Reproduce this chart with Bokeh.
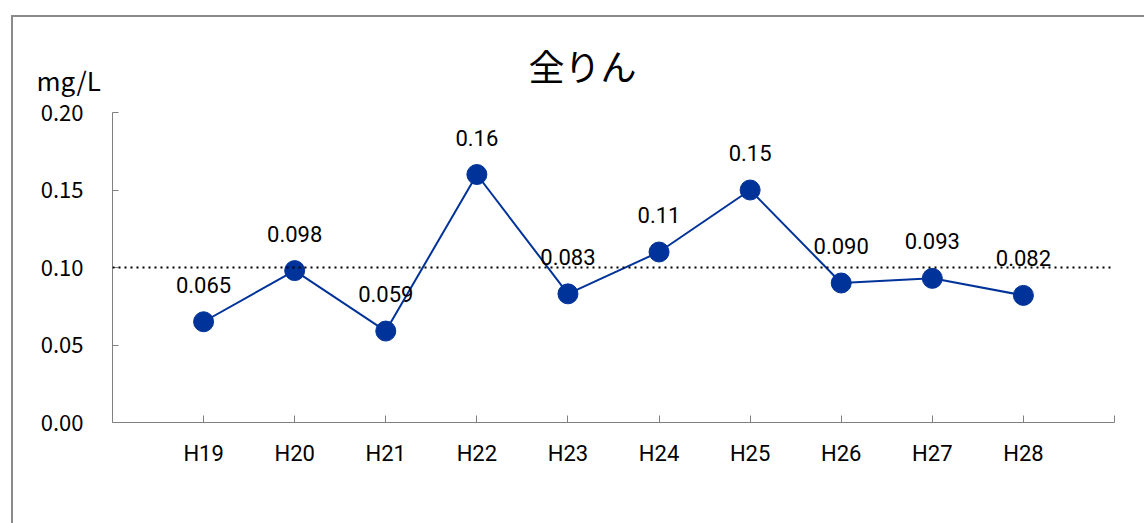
from bokeh.plotting import figure
from bokeh.models import (Range1d, FixedTicker, ColumnDataSource, LabelSet, Title,
                          Span, NumeralTickFormatter, InlineStyleSheet)
from bokeh.core.properties import value
from bokeh.embed import file_html
from bokeh.resources import INLINE

# ---- data ----
categories = ["H19", "H20", "H21", "H22", "H23", "H24", "H25", "H26", "H27", "H28"]
values = [0.065, 0.098, 0.059, 0.16, 0.083, 0.11, 0.15, 0.090, 0.093, 0.082]
y_ticks = [0.0, 0.05, 0.10, 0.15, 0.20]
reference_level = 0.10
title_text = "全りん"
unit_text = "mg/L"

xs = list(range(1, len(categories) + 1))
labels = ["{:#.2g}".format(v) for v in values]
src = ColumnDataSource(dict(x=xs, y=values, label=labels))

BLUE = "#003399"
AXIS = "#808080"

FL, FT, FW, FH = 112, 112, 1002, 310   # frame left/top/width/height in px
W, H = 1128, 507
XMAX = len(categories) + 1
YMAX = 0.2

border_css = InlineStyleSheet(css="""
:host { position: relative; }
:host::after {
  content: ""; position: absolute; left: 11px; top: 15px; right: -60px; bottom: -60px;
  border: 2px solid #8a8a8a; pointer-events: none;
}
""")

p = figure(width=W, height=H, output_backend="svg", toolbar_location=None,
           x_range=Range1d(0, XMAX), y_range=Range1d(0, YMAX),
           min_border_left=FL, min_border_right=W - FL - FW, min_border_top=FT,
           min_border_bottom=H - FT - FH, stylesheets=[border_css])
p.outline_line_color = None
p.grid.grid_line_color = None
p.background_fill_color = "white"
p.border_fill_color = "white"

# unit label (closest to frame) and chart title above it
p.add_layout(Title(text=unit_text, align="left", offset=-76, standoff=29,
                   text_font="Noto Sans CJK JP", text_font_size="26px",
                   text_font_style="normal", text_color="black"), "above")
p.add_layout(Title(text=title_text, align="left", offset=416, standoff=-92,
                   text_font="Noto Sans CJK JP", text_font_size="36px",
                   text_font_style="normal", text_color="black"), "above")

# x axis
xa = p.xaxis[0]
xa.ticker = FixedTicker(ticks=list(range(0, XMAX + 1)))
ov = {i + 1: c for i, c in enumerate(categories)}
ov[0] = ""
ov[XMAX] = ""
xa.major_label_overrides = ov
xa.major_tick_in = 7
xa.major_tick_out = 0
xa.minor_tick_line_color = None
xa.axis_line_color = AXIS
xa.major_tick_line_color = AXIS
xa.major_label_text_font = "Roboto"
xa.major_label_text_font_size = "22px"
xa.major_label_text_color = "black"
xa.major_label_standoff = 18

# y axis
ya = p.yaxis[0]
ya.ticker = FixedTicker(ticks=y_ticks)
ya.formatter = NumeralTickFormatter(format="0.00")
ya.major_tick_in = 6
ya.major_tick_out = 0
ya.minor_tick_line_color = None
ya.axis_line_color = AXIS
ya.major_tick_line_color = AXIS
ya.major_label_text_font = "Noto Sans CJK JP"
ya.major_label_text_font_size = "22px"
ya.major_label_text_color = "black"
ya.major_label_standoff = 29

# reference dotted line
p.add_layout(Span(location=reference_level, dimension="width", line_color="black",
                  line_width=2, line_dash="2 4"))

# series
p.line("x", "y", source=src, line_color=BLUE, line_width=2)
p.scatter("x", "y", source=src, size=20, fill_color=BLUE, line_color=BLUE)

p.add_layout(LabelSet(x="x", y="y", text="label", source=src, y_offset=37,
                      text_align="center", text_baseline="middle",
                      text_font=value("Roboto"), text_font_size="22px",
                      text_color="black"))

open("out.html", "w").write(file_html(p, INLINE))
